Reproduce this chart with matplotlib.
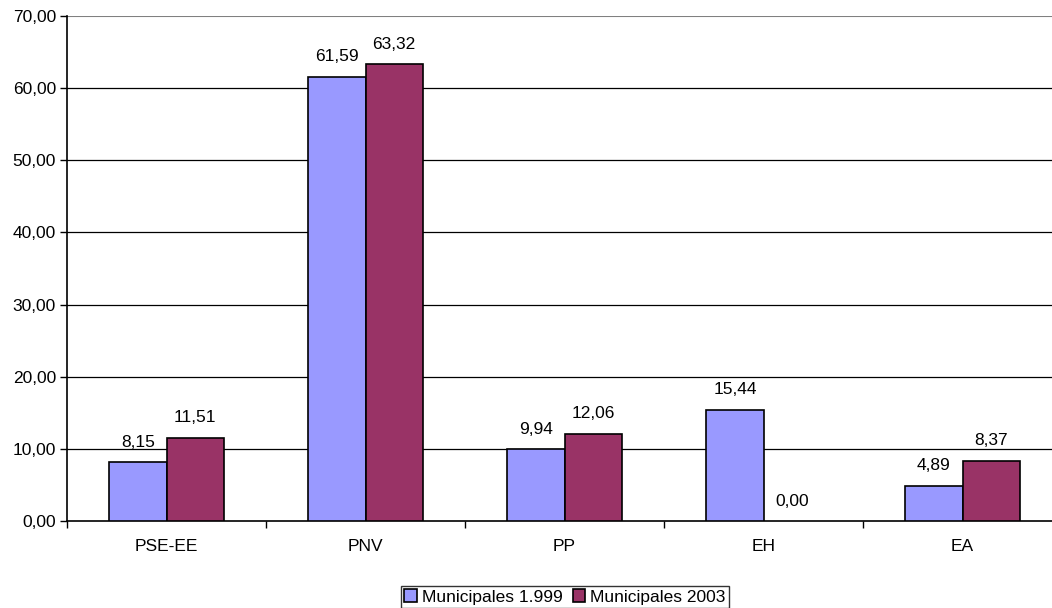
import matplotlib
matplotlib.use("Agg")
import matplotlib.pyplot as plt
import numpy as np

categories = ["PSE-EE", "PNV", "PP", "EH", "EA"]
mun_1999 = [8.15, 61.59, 9.94, 15.44, 4.89]
mun_2003 = [11.51, 63.32, 12.06, 0.00, 8.37]
series_names = ["Municipales 1.999", "Municipales 2003"]
colors = ["#9999FF", "#993366"]

plt.rcParams['font.family'] = ['Liberation Sans', 'DejaVu Sans']
FS = 12.5

fig = plt.figure(figsize=(10.52, 6.08), dpi=100)
ax = fig.add_axes([67/1052, 87/608, 995/1052, 505/608])

x = np.arange(len(categories))
w = 0.287
b1 = ax.bar(x - w/2, mun_1999, w, color=colors[0], edgecolor="black", linewidth=1.2, label=series_names[0], zorder=3)
b2 = ax.bar(x + w/2, mun_2003, w, color=colors[1], edgecolor="black", linewidth=1.2, label=series_names[1], zorder=3)

def fmt(v):
    return f"{v:.2f}".replace(".", ",")

for bars, vals in ((b1, mun_1999), (b2, mun_2003)):
    for rect, v in zip(bars, vals):
        if v == 0:
            rect.set_linewidth(0)
        ax.annotate(fmt(v), (rect.get_x() + rect.get_width()/2, v), xytext=(0, 9),
                    textcoords="offset points", ha="center", va="bottom", fontsize=FS)

ax.set_xlim(-0.5, len(categories) - 0.5)
ax.set_ylim(0, 70)
yt = np.arange(0, 71, 10)
ax.set_yticks(yt)
ax.set_yticklabels([fmt(v) for v in yt], fontsize=FS)
for v in yt[1:-1]:
    ax.axhline(v, color="black", linewidth=0.9, zorder=1)
ax.axhline(70, color="#808080", linewidth=1.5, zorder=1)

ax.set_xticks(x)
ax.set_xticklabels(categories, fontsize=FS)
ax.tick_params(axis="x", length=0, pad=13)
ax.set_xticks(np.arange(-0.5, len(categories)), minor=True)
ax.tick_params(axis="x", which="minor", length=5, width=1, direction="out")
ax.tick_params(axis="y", length=5, width=1, direction="out", pad=3)

for s in ["top", "right"]:
    ax.spines[s].set_visible(False)
ax.spines["left"].set_linewidth(1.2)
ax.spines["bottom"].set_linewidth(1.2)

leg = fig.legend(handles=[b1, b2], labels=series_names, loc="center",
                 bbox_to_anchor=(565/1052, 1 - 597/608), ncol=2, fontsize=FS,
                 frameon=True, fancybox=False, edgecolor="black", handlelength=0.7,
                 handleheight=0.7, handletextpad=0.3, columnspacing=0.6,
                 borderpad=0.2, borderaxespad=0)
leg.get_frame().set_linewidth(1.0)

fig.savefig("out.png", dpi=100)
